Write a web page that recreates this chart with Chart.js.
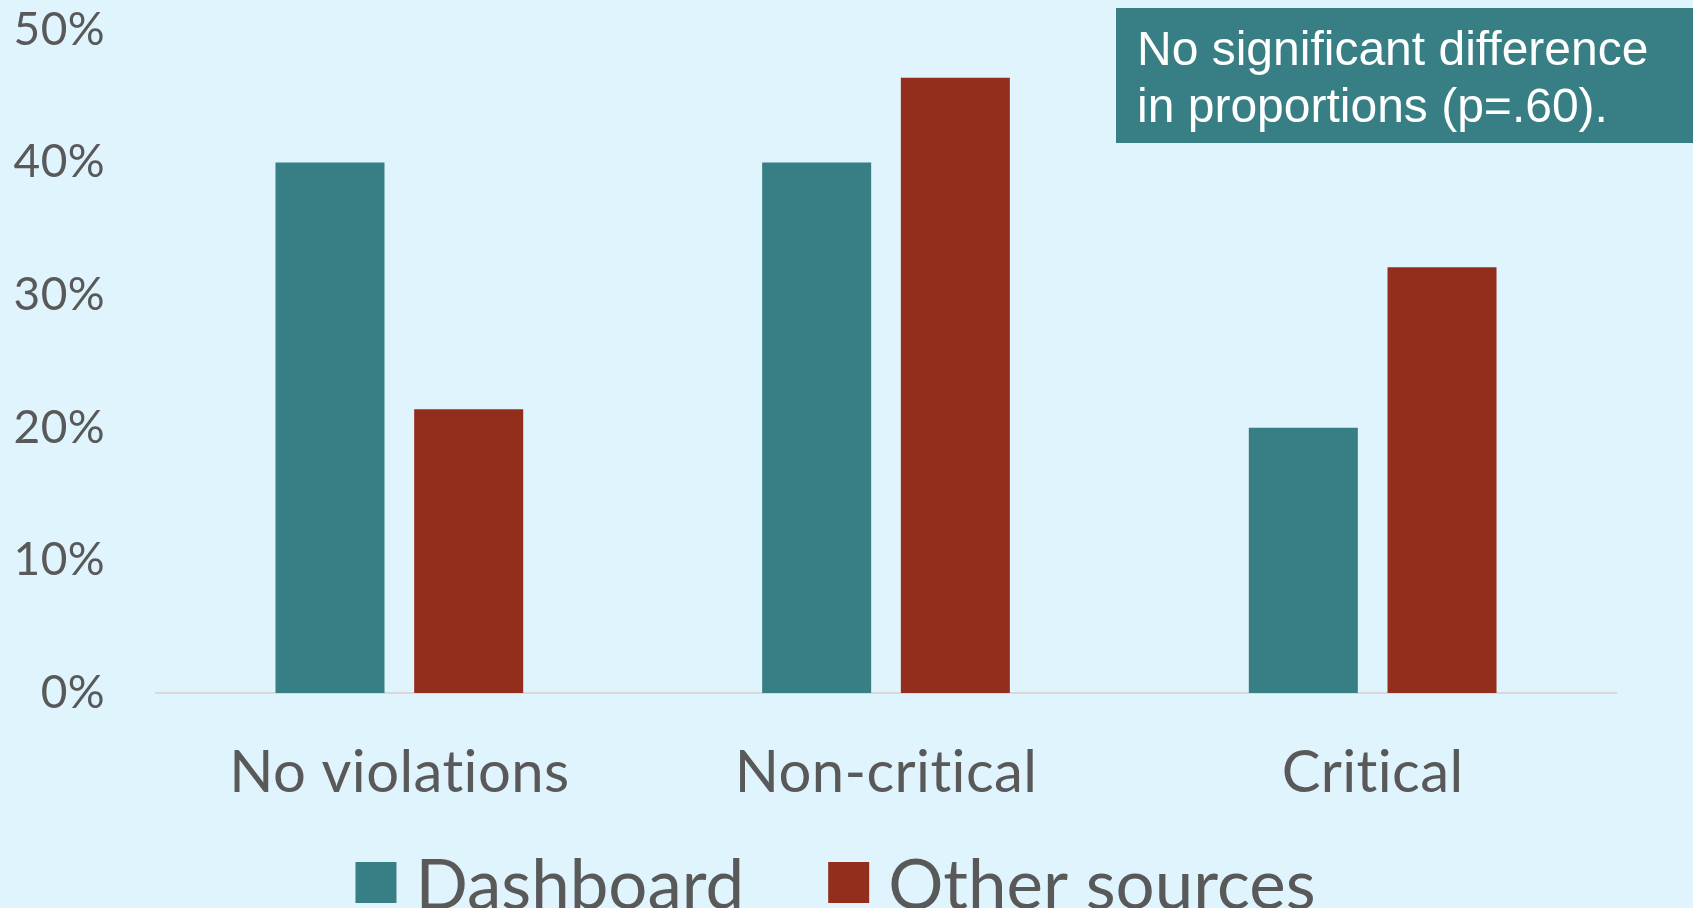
<!DOCTYPE html>
<html>
<head>
<meta charset="utf-8">
<script src="https://cdn.jsdelivr.net/npm/chart.js@4/dist/chart.umd.min.js"></script>
<style>
  html, body { margin: 0; padding: 0; background: #E0F4FD; overflow: hidden; }
  #wrap { position: relative; width: 1693px; height: 908px; }
</style>
</head>
<body>
<div id="wrap"><canvas id="c"></canvas></div>
<script>
// Share of inspections by violation type, per information source (%)
const categories = ['No violations', 'Non-critical', 'Critical'];
const dashboardValues = [40, 40, 20];
const otherSourcesValues = [21.4, 46.4, 32.1];
const seriesNames = ['Dashboard', 'Other sources'];
const yTicks = [0, 10, 20, 30, 40, 50];
const noteLines = ['No significant difference', 'in proportions (p=.60).'];

const TEAL = '#377F85';
const RUST = '#922E1B';
const GREY = '#595959';
const FONT = 'Lato, "Open Sans", sans-serif';

// Keep Lato's "ti" ligature out of the axis labels
const textSetup = {
  id: 'textSetup',
  beforeDraw(chart) { chart.ctx.letterSpacing = '0.4px'; }
};

// Boxed note in the upper right corner
const notePlugin = {
  id: 'note',
  afterDraw(chart) {
    const ctx = chart.ctx;
    const w = 577, h = 135;
    const x = chart.width - w, y = 8;
    ctx.save();
    ctx.letterSpacing = '0px';
    ctx.fillStyle = TEAL;
    ctx.fillRect(x, y, w, h);
    ctx.fillStyle = '#FFFFFF';
    ctx.font = '48px "Liberation Sans", Arial, sans-serif';
    ctx.textBaseline = 'alphabetic';
    ctx.textAlign = 'left';
    ctx.fillText(noteLines[0], x + 21, y + 57);
    ctx.fillText(noteLines[1], x + 21, y + 114);
    ctx.restore();
  }
};

// Legend row under the category labels, built from the datasets
const legendRow = {
  id: 'legendRow',
  afterDraw(chart) {
    const ctx = chart.ctx;
    const box = 41, textGap = 19, itemGap = 84;
    const baseline = chart.height + 1;
    const boxTop = chart.height - 46;
    ctx.save();
    ctx.letterSpacing = '0px';
    ctx.font = '69px ' + FONT;
    ctx.textBaseline = 'alphabetic';
    ctx.textAlign = 'left';
    const items = chart.data.datasets.map(ds => ({
      label: ds.label, color: ds.backgroundColor, w: ctx.measureText(ds.label).width
    }));
    const total = items.reduce((s, it) => s + box + textGap + it.w, 0) + itemGap * (items.length - 1);
    let x = chart.width / 2 - 11 - total / 2;
    items.forEach(it => {
      ctx.fillStyle = it.color;
      ctx.fillRect(x, boxTop, box, box);
      ctx.fillStyle = GREY;
      ctx.fillText(it.label, x + box + textGap, baseline);
      x += box + textGap + it.w + itemGap;
    });
    ctx.restore();
  }
};

new Chart(document.getElementById('c'), {
  type: 'bar',
  data: {
    labels: categories,
    datasets: [
      { label: seriesNames[0], data: dashboardValues, backgroundColor: TEAL,
        categoryPercentage: 0.57, barPercentage: 0.786 },
      { label: seriesNames[1], data: otherSourcesValues, backgroundColor: RUST,
        categoryPercentage: 0.57, barPercentage: 0.786 }
    ]
  },
  options: {
    responsive: true,
    maintainAspectRatio: false,
    animation: false,
    layout: { padding: { top: 30, right: 77, left: 0, bottom: 100 } },
    plugins: {
      tooltip: { enabled: false },
      legend: { display: false }
    },
    scales: {
      x: {
        afterFit(axis) { axis.height = 115; },
        grid: { display: false },
        border: { display: true, color: '#D9D9D9', width: 2 },
        ticks: { color: GREY, font: { family: FONT, size: 58 }, padding: 37 }
      },
      y: {
        min: 0,
        max: 50,
        afterBuildTicks(axis) { axis.ticks = yTicks.map(v => ({ value: v })); },
        afterFit(axis) { axis.width = 156; },
        grid: { display: false, drawTicks: true, tickLength: 51 },
        border: { display: false },
        ticks: {
          color: GREY,
          font: { family: FONT, size: 46 },
          padding: 0,
          callback: v => v + '%'
        }
      }
    }
  },
  plugins: [textSetup, notePlugin, legendRow]
});
</script>
</body>
</html>
